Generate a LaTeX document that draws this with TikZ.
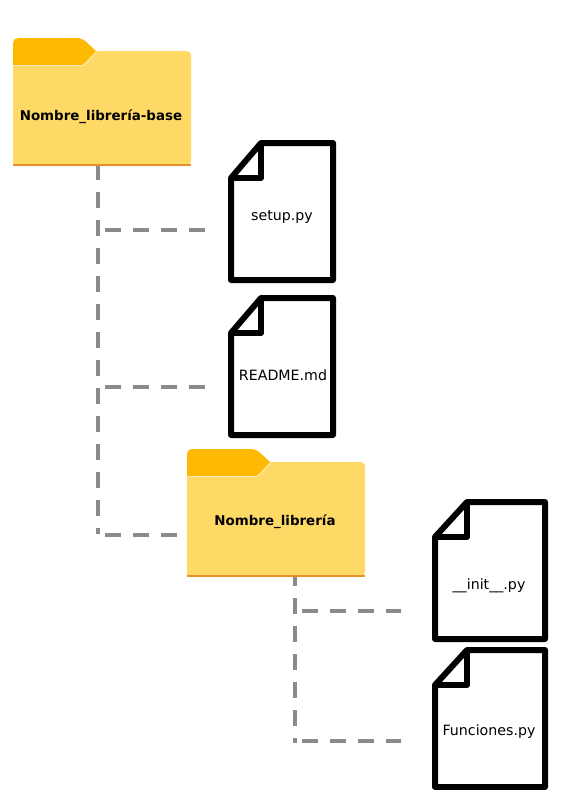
\documentclass[tikz,border=0pt]{standalone}
\usepackage{fontspec}
\setmainfont{DejaVu Sans}
\usetikzlibrary{calc}
\definecolor{tabc}{HTML}{FFB900}
\definecolor{bodyc}{HTML}{FFD966}
\definecolor{edgec}{HTML}{E8912A}
\definecolor{lightc}{HTML}{FFE9A8}
\definecolor{connc}{HTML}{8A8A8A}
\tikzset{
  conn/.style={draw=connc,line width=4pt,dash pattern=on 16pt off 12pt},
  folderbox/.style={minimum width=178pt,minimum height=114pt,inner sep=0pt},
  docbox/.style={minimum height=137pt,inner sep=0pt},
  docline/.style={draw=black,line width=6pt,line join=round},
  boldlabel/.style={font=\fontsize{13.4}{16}\selectfont\bfseries},
  filelabel/.style={font=\fontsize{14.2}{17}\selectfont}
}
\newcommand{\folderat}[3]{%
  \begin{scope}[shift={(#2,#3)}]
    \fill[bodyc] (0,27) [rounded corners=4pt] -- (0,13) -- (178,13) -- (178,127) [sharp corners] -- (0,127) -- cycle;
    \fill[tabc] (0,27) [rounded corners=5pt] -- (0,0) -- (69,0) [sharp corners] -- (83,13) -- (72,24) -- (69,27) -- cycle;
    \draw[lightc,line width=1pt] (0,27.5) -- (69,27.5) -- (74,25) -- (84,13);
    \fill[edgec] (0,125.5) rectangle (178,127.5);
    \node[folderbox,anchor=north west] (#1) at (0,13) {};
  \end{scope}}
\newcommand{\docat}[5]{%
  \begin{scope}[shift={(#2,#3)}]
    \node[docbox,anchor=north west,minimum width=#4pt] (#1) at (0,0) {};
    \draw[docline,fill=white] (#5,0) -- (#4,0) -- (#4,137) -- (0,137) -- (0,35) -- cycle;
    \draw[docline] (#5,0) -- (#5,35) -- (0,35);
  \end{scope}}
\begin{document}
\begin{tikzpicture}[x=1pt,y=-1pt]
\useasboundingbox (0,0) rectangle (568,790);
\fill[white] (0,0) rectangle (568,790);
% connector routing points
\coordinate (top1) at (98,164);
\coordinate (top2) at (295,570);
\coordinate (end1) at (98,534);
\coordinate (end2) at (295,743);
\coordinate (b1) at (105,230);
\coordinate (b2) at (105,387);
\coordinate (b3) at (105,535);
\coordinate (b4) at (302,611);
\coordinate (b5) at (302,741);
% files, and an anchor for folder 2
\node[folderbox,anchor=north west] (f2) at (187,462) {};
\docat{d1}{231}{143}{102}{30}
\docat{d2}{231}{298}{102}{30}
\docat{d3}{435}{502}{110}{32}
\docat{d4}{435}{650}{110}{32}
% connectors
\draw[conn] (top1) -- (end1);
\draw[conn] (top2) -- (end2);
\draw[conn,shorten >=23pt] (b1) -- (d1.west |- b1);
\draw[conn,shorten >=23pt] (b2) -- (d2.west |- b2);
\draw[conn,shorten >=10pt] (b3) -- (f2.west |- b3);
\draw[conn,shorten >=34pt] (b4) -- (d3.west |- b4);
\draw[conn,shorten >=34pt] (b5) -- (d4.west |- b5);
% folders over their connectors
\folderat{f2}{187}{449}
\folderat{f1}{13}{38}
% labels
\node[boldlabel] at (101,116.5) (l1) {Nombre\_librería-base};
\node[boldlabel] at (275,521.5) (l2) {Nombre\_librería};
\node[filelabel] at (282,216.5) (l3) {setup.py};
\node[filelabel] at (283,375.5) (l4) {README.md};
\node[filelabel] at (489,585.5) (l5) {\_\_init\_\_.py};
\node[filelabel] at (489,731.5) (l6) {Funciones.py};
\end{tikzpicture}
\end{document}
